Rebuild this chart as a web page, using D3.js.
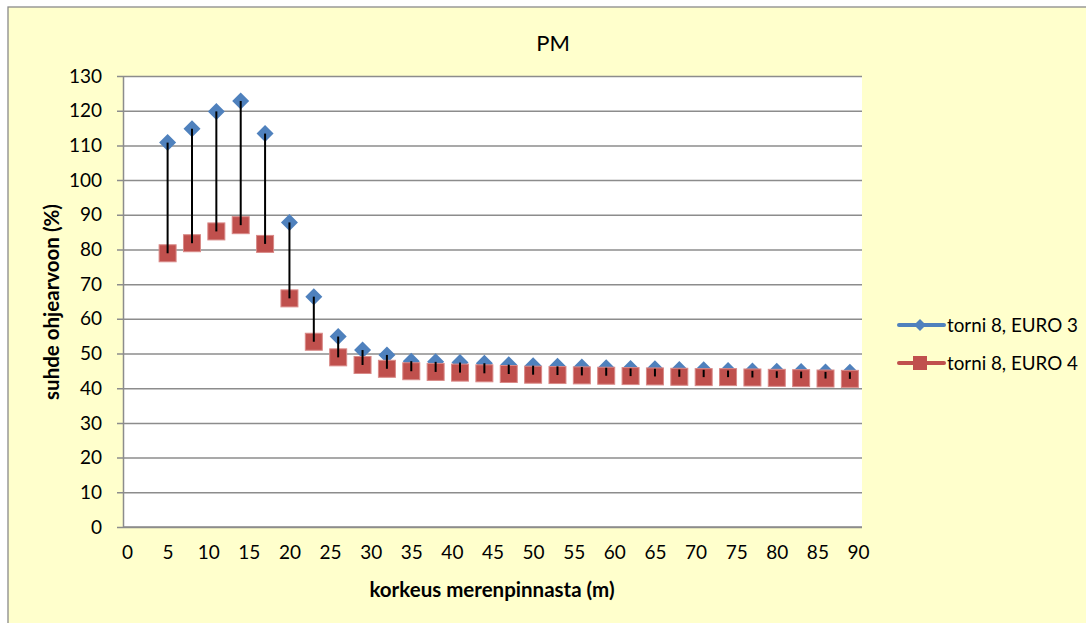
<!DOCTYPE html>
<html>
<head>
<meta charset="utf-8">
<script src="https://cdn.jsdelivr.net/npm/d3@7"></script>
<style>
  html, body { margin: 0; padding: 0; background: #fff; }
  svg { display: block; font-family: Lato, "Open Sans", sans-serif; }
</style>
</head>
<body>
<svg id="chart" width="1086" height="623"></svg>
<script>
// Heights above sea level (m)
const heights = [5, 8, 11, 14, 17, 20, 23, 26, 29, 32, 35, 38, 41, 44, 47, 50, 53, 56, 59, 62, 65, 68, 71, 74, 77, 80, 83, 86, 89];
// Ratio to guideline value (%), tower 8, EURO 3
const euro3 = [110.8, 114.8, 119.8, 122.8, 113.4, 87.8, 66.4, 54.9, 51.0, 49.6, 47.8, 47.6, 47.4, 47.2, 46.8, 46.5, 46.3, 46.1, 45.9, 45.7, 45.6, 45.4, 45.3, 45.1, 45.0, 44.9, 44.8, 44.7, 44.6];
// Ratio to guideline value (%), tower 8, EURO 4
const euro4 = [78.9, 81.8, 85.2, 87.0, 81.6, 65.9, 53.4, 48.9, 46.7, 45.6, 44.9, 44.7, 44.5, 44.3, 44.1, 43.9, 43.8, 43.7, 43.6, 43.5, 43.4, 43.3, 43.2, 43.2, 43.1, 43.0, 42.9, 42.8, 42.7];
const xTicks = [0, 5, 10, 15, 20, 25, 30, 35, 40, 45, 50, 55, 60, 65, 70, 75, 80, 85, 90];
const yTicks = [0, 10, 20, 30, 40, 50, 60, 70, 80, 90, 100, 110, 120, 130];
const seriesNames = ["torni 8, EURO 3", "torni 8, EURO 4"];

const BLUE = "#4F81BD", RED = "#C0504D", GRID = "#8c8c8c";

const svg = d3.select("#chart");

// Chart area
svg.append("rect")
  .attr("x", 8).attr("y", 7).attr("width", 1100).attr("height", 640)
  .attr("fill", "#FFFFCC").attr("stroke", "#8a8a8a").attr("stroke-width", 1.3);

const plot = { left: 123, right: 862, top: 76, bottom: 527 };

const x = d3.scaleLinear().domain([0, 90]).range([127, 858]);
const y = d3.scaleLinear().domain([0, 130]).range([plot.bottom, plot.top]);

// Plot area
svg.append("rect")
  .attr("x", plot.left).attr("y", plot.top)
  .attr("width", plot.right - plot.left).attr("height", plot.bottom - plot.top)
  .attr("fill", "#fff");

// Horizontal gridlines, extending left as y tick marks
const gy = svg.append("g").attr("transform", `translate(${plot.right},0)`);
gy.call(d3.axisRight(y).tickValues(yTicks).tickSize(-(plot.right - plot.left + 6)).tickFormat(""));
gy.select(".domain").remove();
gy.selectAll(".tick line").attr("stroke", GRID).attr("stroke-width", 1.5);

// y axis line and labels
const gyl = svg.append("g").attr("transform", `translate(${plot.left},0)`);
gyl.call(d3.axisLeft(y).tickValues(yTicks).tickSize(0).tickPadding(21).tickFormat(d3.format("d")));
gyl.select(".domain").attr("stroke", GRID).attr("stroke-width", 1.5);
gyl.selectAll(".tick text")
  .attr("font-family", "Lato, sans-serif").attr("font-size", 19).attr("fill", "#000");

// x axis labels (no tick marks)
const gx = svg.append("g").attr("transform", `translate(0,${plot.bottom})`);
gx.call(d3.axisBottom(x).tickValues(xTicks).tickSize(0).tickPadding(19).tickFormat(d3.format("d")));
gx.select(".domain").remove();
gx.selectAll(".tick text")
  .attr("font-family", "Lato, sans-serif").attr("font-size", 19).attr("fill", "#000");
svg.append("line")
  .attr("x1", plot.left).attr("x2", plot.right)
  .attr("y1", plot.bottom).attr("y2", plot.bottom)
  .attr("stroke", GRID).attr("stroke-width", 1.5);

// Markers: EURO 3 diamonds
const diamond = (cx, cy, r) => `M${cx},${cy - r}L${cx + r},${cy}L${cx},${cy + r}L${cx - r},${cy}Z`;
svg.append("g").selectAll("path")
  .data(heights)
  .join("path")
  .attr("d", (h, i) => diamond(x(h), y(euro3[i]), 8.5))
  .attr("fill", BLUE);

// Markers: EURO 4 squares
svg.append("g").selectAll("rect")
  .data(heights)
  .join("rect")
  .attr("x", h => x(h) - 8.5)
  .attr("y", (h, i) => y(euro4[i]) - 8.5)
  .attr("width", 17).attr("height", 17)
  .attr("fill", RED).attr("stroke", "#d98a88").attr("stroke-width", 1);

// High-low lines between the two series
svg.append("g").selectAll("line")
  .data(heights)
  .join("line")
  .attr("x1", h => x(h)).attr("x2", h => x(h))
  .attr("y1", (h, i) => y(euro3[i]))
  .attr("y2", (h, i) => y(euro4[i]))
  .attr("stroke", "#000").attr("stroke-width", 2);

// Title
svg.append("text")
  .attr("x", 553).attr("y", 51)
  .attr("text-anchor", "middle")
  .attr("font-size", 22)
  .text("PM");

// Axis titles
svg.append("text")
  .attr("x", 492).attr("y", 597)
  .attr("text-anchor", "middle")
  .attr("font-size", 20.5).attr("font-weight", "bold")
  .text("korkeus merenpinnasta (m)");

svg.append("text")
  .attr("transform", "translate(59,302) rotate(-90)")
  .attr("text-anchor", "middle")
  .attr("font-size", 20.5).attr("font-weight", "bold")
  .text("suhde ohjearvoon (%)");

// Legend
const legend = svg.append("g");
const legendRows = [
  { name: seriesNames[0], color: BLUE, y: 325, marker: "diamond" },
  { name: seriesNames[1], color: RED, y: 363, marker: "square" }
];
legendRows.forEach(r => {
  legend.append("line")
    .attr("x1", 899).attr("x2", 944).attr("y1", r.y).attr("y2", r.y)
    .attr("stroke", r.color).attr("stroke-width", 4).attr("stroke-linecap", "round");
  if (r.marker === "diamond") {
    legend.append("path").attr("d", diamond(920, r.y, 6)).attr("fill", r.color);
  } else {
    legend.append("rect").attr("x", 913).attr("y", r.y - 7).attr("width", 14).attr("height", 14)
      .attr("fill", r.color);
  }
  legend.append("text")
    .attr("x", 947).attr("y", r.y + 6.5)
    .attr("font-size", 18.8)
    .text(r.name);
});
</script>
</body>
</html>
